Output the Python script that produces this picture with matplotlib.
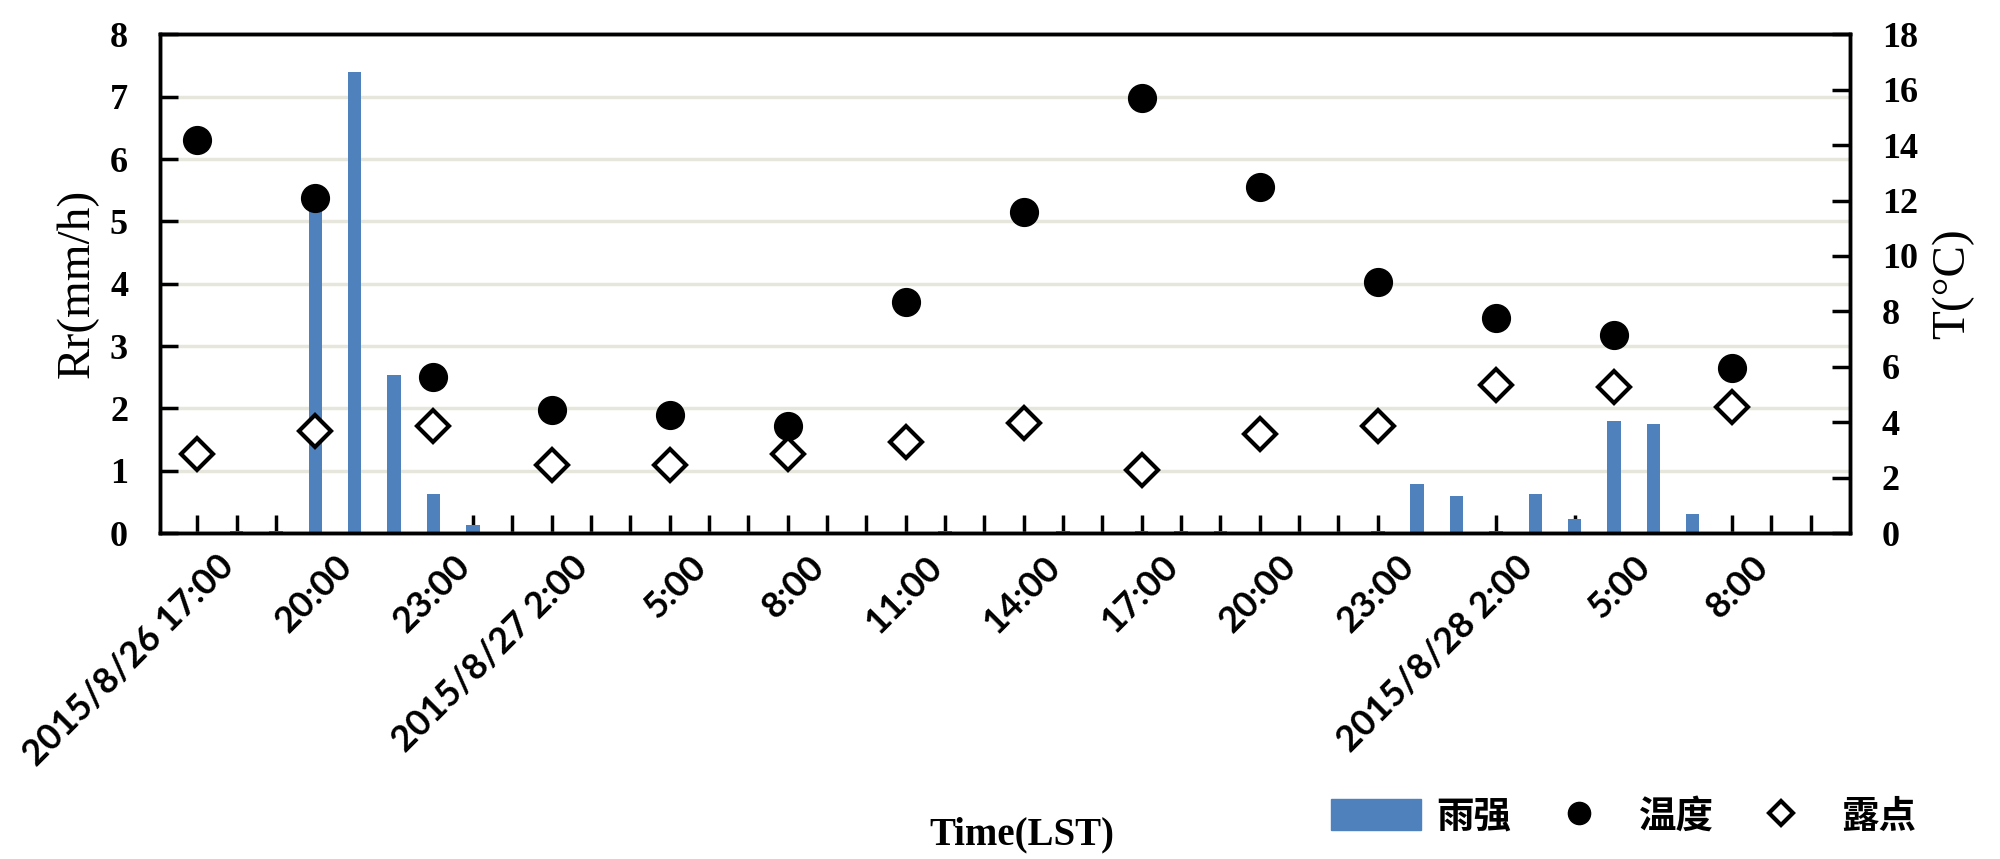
import numpy as np
from matplotlib import pyplot as plt
from matplotlib.patches import Patch
from matplotlib.lines import Line2D

# hourly rain rate, 2015/8/26 17:00 .. 2015/8/28 10:00
rain = [0, 0.03, 0.03, 5.25, 7.4, 2.54, 0.63, 0.13,
        0, 0, 0, 0, 0, 0, 0, 0, 0, 0, 0, 0.03, 0, 0, 0.03, 0,
        0.03, 0.03, 0.03, 0, 0, 0, 0.03,
        0.78, 0.60, 0.03, 0.63, 0.23, 1.79, 1.75, 0.30, 0, 0, 0]
# 3-hourly temperature / dew point
temp = [14.2, 12.1, 5.63, 4.45, 4.25, 3.87, 8.34, 11.6, 15.7, 12.5, 9.05, 7.76, 7.15, 5.95]
dewp = [2.86, 3.67, 3.87, 2.47, 2.47, 2.86, 3.27, 3.96, 2.28, 3.57, 3.85, 5.35, 5.27, 4.56]
tick_labels = ['2015/8/26 17:00', '20:00', '23:00', '2015/8/27 2:00', '5:00', '8:00',
               '11:00', '14:00', '17:00', '20:00', '23:00', '2015/8/28 2:00', '5:00', '8:00']

hours = np.arange(len(rain))
obs = hours[::3][:len(temp)]

serif = 'Liberation Serif'
cjk = ['Noto Sans CJK SC', 'DejaVu Sans']

fig = plt.figure(figsize=(20, 8.59), dpi=100)
ax1 = fig.add_axes([0.08, 0.3795, 0.845, 0.5805])
ax2 = ax1.twinx()

ax1.bar(hours, rain, width=0.34, color='#4F81BD', zorder=2)
ax1.set_xlim(-0.95, 42)
ax1.set_ylim(0, 8)
ax1.set_yticks(range(0, 9))
ax1.grid(axis='y', color='#e6e6dc', lw=2.5, zorder=0)
ax1.set_axisbelow(True)

ax2.plot(obs, temp, 'o', color='black', ms=20, ls='none', zorder=3)
ax2.plot(obs, dewp, 'D', mfc='white', mec='black', mew=3, ms=16, ls='none', zorder=3)
ax2.set_ylim(0, 18)
ax2.set_yticks(range(0, 19, 2))

# hourly tick marks (minor), labels every 3 hours (major, no mark, nudged right like Excel)
ax1.set_xticks(hours, minor=True)
ax1.set_xticks(obs + 0.5)
ax1.set_xticklabels(tick_labels, rotation=45, ha='right', va='top', rotation_mode='anchor',
                    fontsize=26, fontfamily='Lato', fontweight='bold')

for ax in (ax1, ax2):
    for s in ax.spines.values():
        s.set_linewidth(2.5)
    ax.tick_params(which='both', direction='in', length=13, width=2.5)
ax1.tick_params(axis='x', which='major', length=0, pad=12)
ax1.tick_params(axis='y', pad=23)
ax2.tick_params(axis='y', pad=23)
for lab in ax1.get_yticklabels() + ax2.get_yticklabels():
    lab.set_fontfamily(serif)
    lab.set_fontweight('bold')
    lab.set_fontsize(26)

ax1.set_ylabel('Rr(mm/h)', fontfamily=serif, fontsize=34, labelpad=8)
ax2.set_ylabel('T(°C)', fontfamily=serif, fontsize=34, labelpad=10)
fig.text(0.511, 0.028, 'Time(LST)', ha='center', va='center',
         fontfamily=serif, fontweight='bold', fontsize=28)

handles = [Patch(color='#4F81BD'),
           Line2D([], [], marker='o', color='black', ls='none', ms=16),
           Line2D([], [], marker='D', mfc='white', mec='black', mew=3, ls='none', ms=12)]
fig.legend(handles, ['雨强', '温度', '露点'], ncol=3, loc='center right',
           bbox_to_anchor=(0.975, 0.05), frameon=False, handlelength=2.4,
           handleheight=0.9, handletextpad=0.4, columnspacing=0.6,
           prop={'family': cjk, 'weight': 'bold', 'size': 27})

fig.savefig('out.png', dpi=100)
